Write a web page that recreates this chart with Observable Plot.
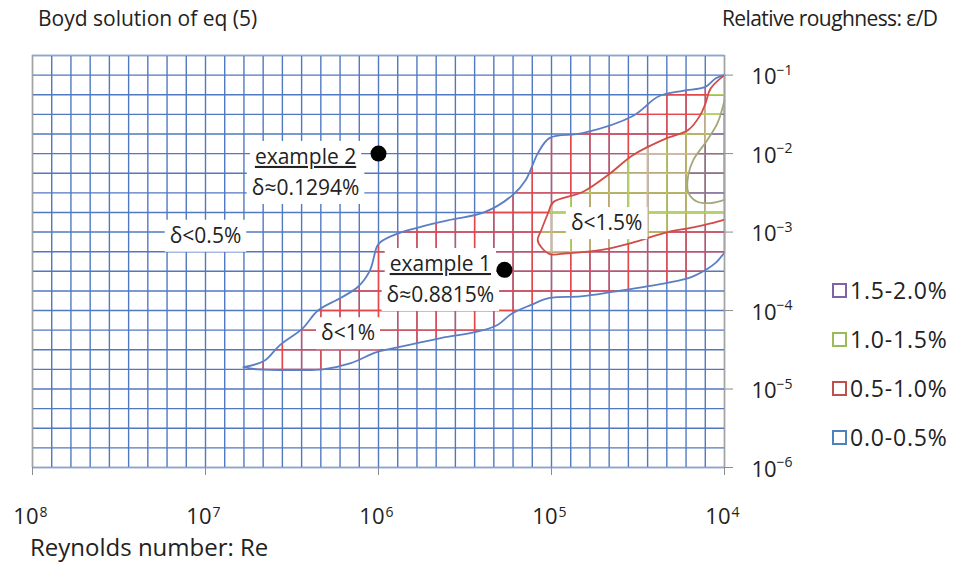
<!DOCTYPE html>
<html><head><meta charset="utf-8">
<script src="https://cdn.jsdelivr.net/npm/d3@7"></script>
<script src="https://cdn.jsdelivr.net/npm/@observablehq/plot@0.6"></script>
<style>
html,body{margin:0;padding:0;background:#fff;}
#chart{position:relative;width:960px;height:567px;overflow:hidden;font-family:"Open Sans",sans-serif;color:#222;}
#chart svg{position:absolute;left:0;top:0;}
.t{position:absolute;white-space:nowrap;font-size:21px;line-height:24px;}
.leg{position:absolute;left:832px;display:flex;align-items:center;white-space:nowrap;font-size:23px;letter-spacing:0.8px;line-height:26px;}
.leg .sw{display:inline-block;width:11px;height:11px;border:2px solid;margin-right:3px;}
</style></head><body><div id="chart"></div>
<script>
// ---- axes / scale data ----
const reDecades = [1e8, 1e7, 1e6, 1e5, 1e4];
const epsDecades = [1e-6, 1e-5, 1e-4, 1e-3, 1e-2, 1e-1];
const reDomain = [1e8, 1e4];
const epsDomain = [1e-6, 10 ** -0.75];
const reSubdivisions = 9;   // grid cells per Re decade
const epsSubdivisions = 4;  // grid cells per ε/D decade

// ---- contour boundaries: [log10 Re, log10 ε/D] ----
const edge05Upper = [[6.78,-4.72],[6.66,-4.64],[6.57,-4.44],[6.44,-4.23],[6.35,-4.00],[6.22,-3.84],[6.12,-3.70],[6.05,-3.49],[6.01,-3.19],[5.99,-3.13],[5.89,-3.02],[5.60,-2.85],[5.39,-2.75],[5.22,-2.52],[5.15,-2.34],[5.11,-2.15],[5.08,-2.00],[5.01,-1.80],[4.82,-1.74],[4.53,-1.52],[4.38,-1.27],[4.24,-1.20],[4.11,-1.15],[4.05,-1.04],[4.00,-1.00]];
const edge05Lower = [[6.78,-4.72],[6.70,-4.75],[6.47,-4.76],[6.32,-4.75],[6.16,-4.67],[6.01,-4.53],[5.87,-4.46],[5.64,-4.35],[5.43,-4.27],[5.31,-4.18],[5.23,-4.04],[5.12,-3.93],[5.01,-3.84],[4.83,-3.82],[4.64,-3.76],[4.44,-3.69],[4.20,-3.58],[4.10,-3.47],[4.05,-3.39],[4.00,-3.26]];
const edge10 = [[4.00,-1.00],[4.08,-1.17],[4.11,-1.36],[4.14,-1.51],[4.21,-1.70],[4.33,-1.80],[4.53,-2.02],[4.66,-2.25],[4.82,-2.49],[4.99,-2.62],[5.02,-2.76],[5.06,-2.98],[5.08,-3.10],[5.06,-3.19],[5.01,-3.28],[4.91,-3.27],[4.72,-3.23],[4.54,-3.14],[4.33,-3.00],[4.18,-2.94],[4.08,-2.89],[4.00,-2.84]];
const edge15 = [[4.00,-1.32],[4.04,-1.61],[4.10,-1.83],[4.18,-2.08],[4.21,-2.28],[4.21,-2.49],[4.16,-2.61],[4.08,-2.63],[4.00,-2.59]];

// ---- legend ----
const bandLabels = ["1.5-2.0%", "1.0-1.5%", "0.5-1.0%", "0.0-0.5%"];
const bandColors = ["#8064a2", "#9bbb59", "#c0504d", "#4f81bd"];

// ---- annotations ----
const examples = [
  {label: "example 1", delta: "δ≈0.8815%", Re: 1.87e5, eps: 3.3e-4, labelRe: 4.39e5, labelEps: 3.89e-4},
  {label: "example 2", delta: "δ≈0.1294%", Re: 1.0e6, eps: 1.0e-2, labelRe: 2.64e6, labelEps: 9.0e-3}
];
const regionNotes = [
  {text: "δ<0.5%", Re: 1.0e7, eps: 8.9e-4},
  {text: "δ<1%", Re: 1.5e6, eps: 5.1e-5},
  {text: "δ<1.5%", Re: 4.8e4, eps: 1.29e-3}
];

// ---- styles ----
const GRID = {blue: "#5079c2", red: "#e4474c", green: "#b4d066", purple: "#8a6db2"};
const EDGE = {blue: "#5a7fc4", red: "#d44a48", olive: "#a2a87a"};
const FONT = "Open Sans";

const reGrid = d3.range(0, 4 * reSubdivisions + 1).map(k => 10 ** (8 - k / reSubdivisions));
const epsGrid = d3.range(0, 5 * epsSubdivisions + 2).map(k => 10 ** (-6 + k / epsSubdivisions));

const toPt = ([lr, le]) => ({Re: 10 ** lr, eps: 10 ** le});
const upper = edge05Upper.map(toPt), lower = edge05Lower.map(toPt);
const band10 = edge10.map(toPt), band15 = edge15.map(toPt);
const redRegion = upper.concat(lower.slice().reverse());

const tag = name => ({ariaDescription: name, className: name});
const grid = (color, name) => [
  Plot.ruleX(reGrid, {x: d => d, stroke: color, strokeWidth: 1.4, ...tag(name)}),
  Plot.ruleY(epsGrid, {y: d => d, stroke: color, strokeWidth: 1.4, ...tag(name)})
];
const region = (data, name) => Plot.line(data, {x: "Re", y: "eps", curve: "catmull-rom", stroke: "white", strokeOpacity: 0, ...tag(name)});
const edge = (data, color) => Plot.line(data, {x: "Re", y: "eps", curve: "catmull-rom", stroke: color, strokeWidth: 1.8});

const svg = Plot.plot({
  width: 960, height: 567,
  marginLeft: 32, marginRight: 236, marginTop: 55, marginBottom: 100,
  x: {type: "log", domain: reDomain, axis: null},
  y: {type: "log", domain: epsDomain, axis: null},
  style: {fontFamily: FONT, background: "white", overflow: "visible", color: "#222"},
  marks: [
    ...grid(GRID.blue, "gridblue"),
    ...grid(GRID.red, "gridred"),
    ...grid(GRID.green, "gridgreen"),
    ...grid(GRID.purple, "gridpurple"),
    region(redRegion, "regionred"),
    region(band10, "regiongreen"),
    region(band15, "regionpurple"),
    edge(upper, EDGE.blue),
    edge(lower, EDGE.blue),
    edge(band10, EDGE.red),
    edge(band15, EDGE.olive),
    Plot.frame({stroke: "#a3a3a3", strokeWidth: 1.2}),
    Plot.axisX(reDecades, {anchor: "bottom", tickSize: 8, tickFormat: () => "", stroke: "#8c8c8c"}),
    Plot.axisY(epsDecades, {anchor: "right", tickSize: 8, tickFormat: () => "", stroke: "#8c8c8c"}),
    Plot.text(reDecades, {x: d => d, frameAnchor: "bottom", text: () => "10", textAnchor: "end", dx: 6, dy: 56, fontSize: 22, fill: "#222"}),
    Plot.text(reDecades, {x: d => d, frameAnchor: "bottom", text: d => String(Math.round(Math.log10(d))), textAnchor: "start", dx: 7, dy: 49, fontSize: 14, fill: "#222"}),
    Plot.text(epsDecades, {y: d => d, frameAnchor: "right", text: () => "10", textAnchor: "start", dx: 27, dy: 2, fontSize: 22, fill: "#222"}),
    Plot.text(epsDecades, {y: d => d, frameAnchor: "right", text: d => "\u2212" + Math.abs(Math.round(Math.log10(d))), textAnchor: "start", dx: 52, dy: -5, fontSize: 14, fill: "#222"}),
    Plot.text(regionNotes, {x: "Re", y: "eps", text: "text", fontSize: 21, fill: "#222", ...tag("note")}),
    Plot.text(examples, {x: "labelRe", y: "labelEps", text: "label", fontSize: 21, fill: "#222", ...tag("exname")}),
    Plot.text(examples, {x: "labelRe", y: "labelEps", text: "delta", dy: 31, fontSize: 21, fill: "#222", ...tag("exdelta")}),
    Plot.dot(examples, {x: "Re", y: "eps", r: 8, fill: "black", stroke: "none"})
  ]
});

const chart = document.getElementById("chart");
chart.appendChild(svg);

const NS = "http://www.w3.org/2000/svg";
function groups(name) {
  const set = new Set();
  svg.querySelectorAll(`[aria-description="${name}"], .${name}`).forEach(e => set.add(e));
  return Array.from(set).filter(e => e !== svg);
}

// clip coloured grid lines to the contour bands
let defs = svg.querySelector("defs");
if (!defs) { defs = document.createElementNS(NS, "defs"); svg.insertBefore(defs, svg.firstChild); }
function clipTo(regionName, gridName, id) {
  const gs = groups(regionName);
  let src = null;
  for (const g of gs) { src = g.tagName === "path" ? g : g.querySelector("path"); if (src) break; }
  if (!src) return;
  const cp = document.createElementNS(NS, "clipPath");
  cp.setAttribute("id", id);
  const p = document.createElementNS(NS, "path");
  p.setAttribute("d", src.getAttribute("d"));
  const tr = src.parentNode.getAttribute("transform");
  if (tr) p.setAttribute("transform", tr);
  cp.appendChild(p);
  defs.appendChild(cp);
  groups(gridName).forEach(g => g.setAttribute("clip-path", `url(#${id})`));
}
clipTo("regionred", "gridred", "clip-red");
clipTo("regiongreen", "gridgreen", "clip-green");
clipTo("regionpurple", "gridpurple", "clip-purple");

// underline example names
groups("exname").forEach(g => (g.tagName === "text" ? [g] : g.querySelectorAll("text")).forEach(t => t.setAttribute("text-decoration", "underline")));

// white label boxes
["note", "exname", "exdelta"].forEach(name => {
  groups(name).forEach(g => {
    const texts = Array.from(g.querySelectorAll("text"));
    texts.forEach(t => {
      const b = t.getBBox();
      const r = document.createElementNS(NS, "rect");
      r.setAttribute("x", b.x - 5); r.setAttribute("y", b.y - 1);
      r.setAttribute("width", b.width + 10); r.setAttribute("height", b.height + 4);
      r.setAttribute("fill", "white");
      const tr = t.getAttribute("transform");
      if (tr) r.setAttribute("transform", tr);
      g.insertBefore(r, g.firstChild);
    });
  });
});

// titles
function addText(txt, left, top, size, spacing) {
  const d = document.createElement("div");
  d.className = "t"; d.textContent = txt;
  d.style.left = left + "px"; d.style.top = top + "px";
  if (size) d.style.fontSize = size + "px";
  if (spacing) d.style.letterSpacing = spacing + "px";
  chart.appendChild(d);
}
addText("Boyd solution of eq (5)", 38, 6);
addText("Relative roughness: \u03b5/D", 722, 6, 21, -0.6);
addText("Reynolds number: Re", 30, 535, 24);

// legend
bandLabels.forEach((lab, i) => {
  const d = document.createElement("div");
  d.className = "leg";
  d.style.top = (277 + i * 49) + "px";
  const sw = document.createElement("span");
  sw.className = "sw"; sw.style.borderColor = bandColors[i];
  d.appendChild(sw);
  d.appendChild(document.createTextNode(lab));
  chart.appendChild(d);
});
</script></body></html>
